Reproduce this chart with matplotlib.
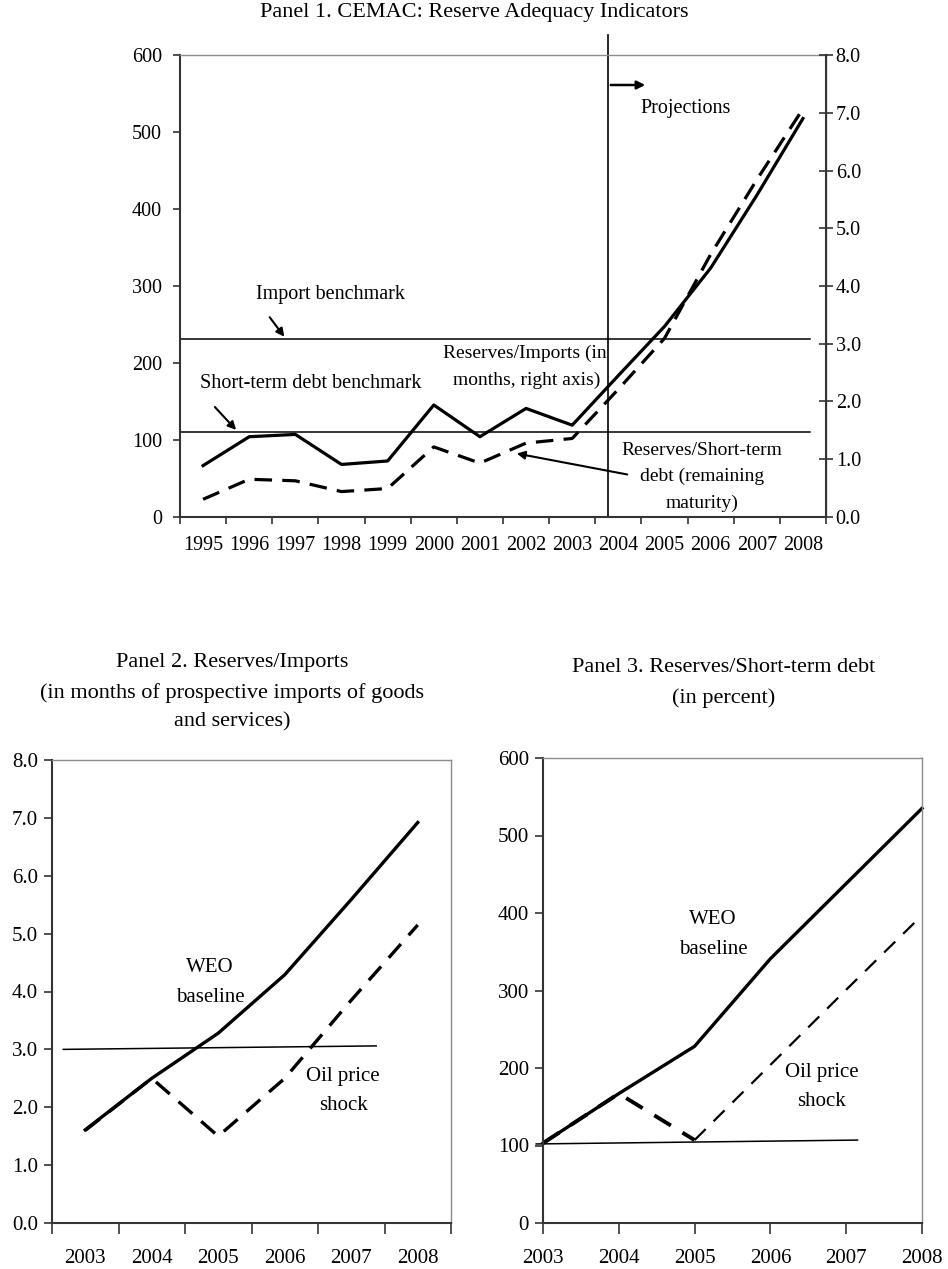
import matplotlib
matplotlib.use("Agg")
import matplotlib.pyplot as plt
from matplotlib.patches import FancyArrowPatch
from matplotlib.ticker import FixedLocator, FixedFormatter, MultipleLocator, FormatStrFormatter

plt.rcParams['font.family'] = ['Liberation Serif', 'DejaVu Serif']

# ---------------- data ----------------
p1_years = ['1995', '1996', '1997', '1998', '1999', '2000', '2001', '2002',
            '2003', '2004', '2005', '2006', '2007', '2008']
p1_res_std = [23, 49, 47, 33, 37, 91, 70, 96, 102, 166, 232, 341, 438, 530]     # left axis, percent
p1_res_imp = [0.89, 1.39, 1.43, 0.91, 0.97, 1.94, 1.39, 1.88, 1.59, 2.45, 3.30,
              4.31, 5.57, 6.90]                                                  # right axis, months
p1_import_bench = 231     # left-axis units
p1_std_bench = 110
p1_bench_x = [-0.5, 13.15]
p1_proj_x = 8.78

p2_years = ['2003', '2004', '2005', '2006', '2007', '2008']
p2_weo = [1.61, 2.50, 3.28, 4.29, 5.59, 6.92]
p2_oil = [1.60, 2.50, 1.50, 2.50, 3.85, 5.15]
p2_bench_x = [-0.33, 4.375]
p2_bench_y = [3.00, 3.06]

p3_years = [2003, 2004, 2005, 2006, 2007, 2008]
p3_weo = [103, 167, 228, 341, 438, 535]
p3_oil = [103, 167, 107, 204, 301, 397]
p3_bench_x = [2002.91, 2007.15]
p3_bench_y = [102, 107]

# ---------------- figure ----------------
W, H = 948, 1269
fig = plt.figure(figsize=(W / 100, H / 100), dpi=100)

def fx(x):
    return x / W

def fy(y):
    return 1 - y / H

def axes_px(l, t, r, b):
    return fig.add_axes([fx(l), fy(b), (r - l) / W, (b - t) / H])

def ftext(x, y, s, size=14, ha='center'):
    fig.text(fx(x), fy(y), s, ha=ha, va='center', fontsize=size)

def farrow(x0, y0, x1, y1, lw=1.5):
    fig.add_artist(FancyArrowPatch((fx(x0), fy(y0)), (fx(x1), fy(y1)),
                                   transform=fig.transFigure, arrowstyle='-|>',
                                   mutation_scale=12, lw=lw, color='black'))

GRAY = '#8c8c8c'
SPINE = '#333333'
TS = 14.5

def style_axes(ax):
    ax.spines['left'].set_color(SPINE)
    ax.spines['bottom'].set_color(SPINE)
    ax.spines['left'].set_linewidth(1.5)
    ax.spines['bottom'].set_linewidth(1.5)
    ax.spines['top'].set_color(GRAY)
    ax.spines['right'].set_color(GRAY)
    ax.spines['top'].set_linewidth(1.0)
    ax.spines['right'].set_linewidth(1.0)

# ---------------- Panel 1 ----------------
ax1 = axes_px(180, 55, 826, 517)
style_axes(ax1)
x1 = list(range(len(p1_years)))
ax1.set_xlim(-0.5, len(p1_years) - 0.5)
ax1.set_ylim(0, 600)
ax1.yaxis.set_major_locator(MultipleLocator(100))
ax1.xaxis.set_major_locator(FixedLocator(x1))
ax1.xaxis.set_major_formatter(FixedFormatter(p1_years))
ax1.xaxis.set_minor_locator(FixedLocator([i - 0.5 for i in range(len(p1_years) + 1)]))
ax1.tick_params(axis='x', which='major', length=0, pad=14, labelsize=TS)
ax1.tick_params(axis='x', which='minor', length=5, width=1.2, color=SPINE, direction='out')
ax1.tick_params(axis='y', which='major', length=5, width=1.2, color=SPINE, pad=8, labelsize=TS)

ax1.plot(x1, p1_res_std, color='black', lw=2.3, linestyle=(0, (5.5, 3.2)), solid_capstyle='butt')
ax1.plot(p1_bench_x, [p1_import_bench] * 2, color='black', lw=1.1, clip_on=False)
ax1.plot(p1_bench_x, [p1_std_bench] * 2, color='black', lw=1.1, clip_on=False)
ax1.plot([p1_proj_x, p1_proj_x], [0, 626], color='black', lw=1.2, clip_on=False)

ax1b = ax1.twinx()
ax1b.set_ylim(0, 8)
ax1b.yaxis.set_major_locator(MultipleLocator(1))
ax1b.yaxis.set_major_formatter(FormatStrFormatter('%.1f'))
ax1b.tick_params(axis='y', length=10, width=1.2, direction='inout', color=SPINE, pad=2, labelsize=TS)
ax1b.spines['right'].set_color(SPINE)
ax1b.spines['right'].set_linewidth(1.5)
ax1b.spines['top'].set_visible(False)
ax1b.spines['left'].set_visible(False)
ax1b.spines['bottom'].set_visible(False)
ax1b.plot(x1, p1_res_imp, color='black', lw=2.3)

ftext(474, 13, 'Panel 1. CEMAC: Reserve Adequacy Indicators', size=16)
ftext(330, 295, 'Import benchmark', size=TS)
farrow(268, 315, 286, 339)
ftext(311, 383, 'Short-term debt benchmark', size=TS)
farrow(213, 405, 238, 432)
ftext(525, 353, 'Reserves/Imports (in', size=14)
ftext(527, 380, 'months, right axis)', size=14)
ftext(702, 450, 'Reserves/Short-term', size=14)
ftext(702, 476, 'debt (remaining', size=14)
ftext(702, 503, 'maturity)', size=14)
farrow(630, 475, 514, 453)
ftext(686, 108, 'Projections', size=TS)
farrow(608, 85, 648, 85, lw=1.8)

# ---------------- Panel 2 ----------------
ax2 = axes_px(52, 760, 451, 1223)
style_axes(ax2)
x2 = list(range(len(p2_years)))
ax2.set_xlim(-0.5, len(p2_years) - 0.5)
ax2.set_ylim(0, 8)
ax2.yaxis.set_major_locator(MultipleLocator(1))
ax2.yaxis.set_major_formatter(FormatStrFormatter('%.1f'))
ax2.xaxis.set_major_locator(FixedLocator(x2))
ax2.xaxis.set_major_formatter(FixedFormatter(p2_years))
ax2.xaxis.set_minor_locator(FixedLocator([i - 0.5 for i in range(len(p2_years) + 1)]))
ax2.tick_params(axis='x', which='major', length=0, pad=19, labelsize=15)
ax2.tick_params(axis='x', which='minor', length=8, width=1.2, color=SPINE)
ax2.tick_params(axis='y', length=6, width=1.2, color=SPINE, pad=4, labelsize=15)

ax2.plot(x2, p2_weo, color='black', lw=2.4)
ax2.plot(x2, p2_oil, color='black', lw=2.4, linestyle=(0, (5.5, 3.5)))
ax2.plot(p2_bench_x, p2_bench_y, color='black', lw=1.1)

ftext(232, 663, 'Panel 2. Reserves/Imports', size=16)
ftext(232, 693, '(in months of prospective imports of goods', size=16)
ftext(232, 722, 'and services)', size=16)
ftext(210, 967, 'WEO', size=15)
ftext(210, 997, 'baseline', size=15)
ftext(343, 1077, 'Oil price', size=15)
ftext(343, 1105, 'shock', size=15)

# ---------------- Panel 3 ----------------
ax3 = axes_px(543, 758, 922, 1223)
style_axes(ax3)
ax3.set_xlim(p3_years[0], p3_years[-1])
ax3.set_ylim(0, 600)
ax3.yaxis.set_major_locator(MultipleLocator(100))
ax3.xaxis.set_major_locator(FixedLocator(p3_years))
ax3.xaxis.set_major_formatter(FixedFormatter([str(y) for y in p3_years]))
ax3.tick_params(axis='x', length=8, width=1.2, color=SPINE, pad=11, labelsize=15)
ax3.tick_params(axis='y', length=6, width=1.2, color=SPINE, pad=4, labelsize=15)

ax3.plot(p3_years, p3_weo, color='black', lw=2.4, clip_on=False)
ax3.plot(p3_years[:3], p3_oil[:3], color='black', lw=2.8, linestyle=(0, (5, 3.5)))
ax3.plot(p3_years[2:], p3_oil[2:], color='black', lw=1.6, linestyle=(0, (7, 5)), clip_on=False)
ax3.plot(p3_bench_x, p3_bench_y, color='black', lw=1.1, clip_on=False)

ftext(724, 667, 'Panel 3. Reserves/Short-term debt', size=16)
ftext(724, 698, '(in percent)', size=16)
ftext(713, 920, 'WEO', size=15)
ftext(713, 949, 'baseline', size=15)
ftext(822, 1073, 'Oil price', size=15)
ftext(822, 1101, 'shock', size=15)

fig.savefig('out.png', dpi=100)
